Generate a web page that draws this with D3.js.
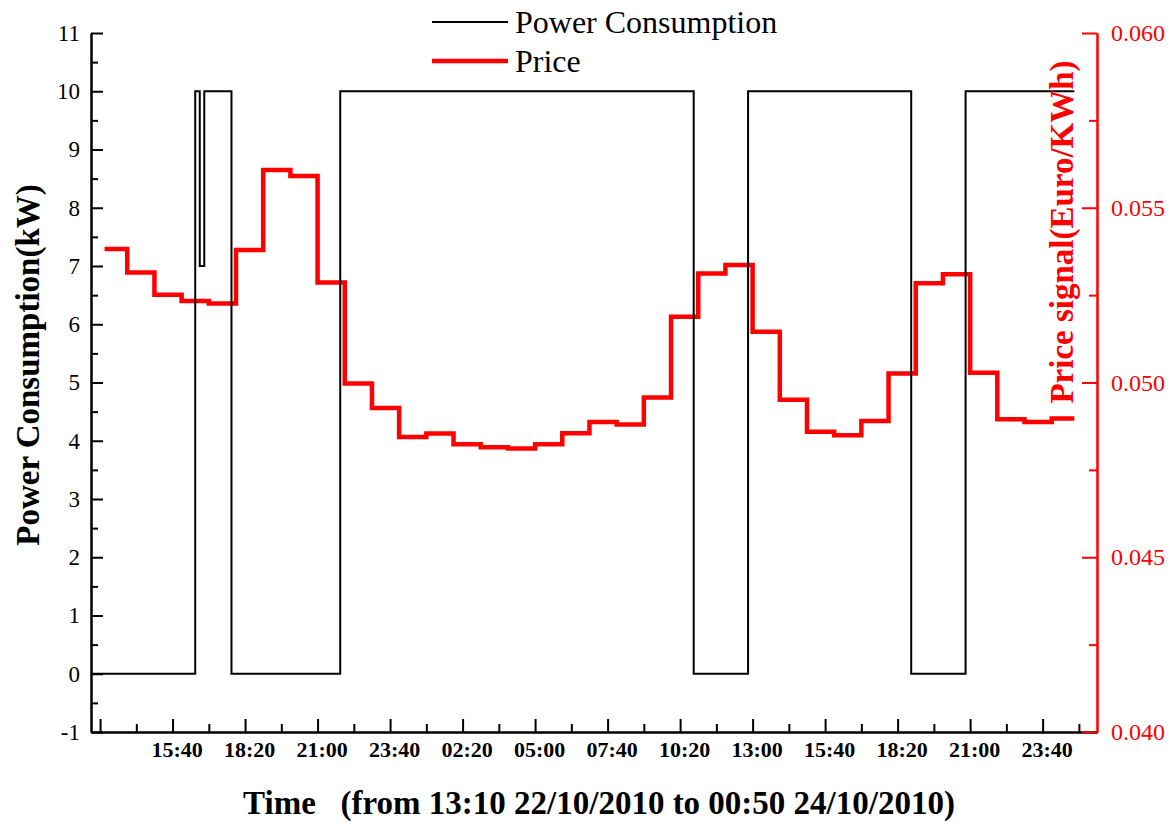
<!DOCTYPE html>
<html>
<head>
<meta charset="utf-8">
<script src="https://cdn.jsdelivr.net/npm/d3@7"></script>
<style>
  html, body { margin: 0; padding: 0; background: #fff; }
  svg { display: block; font-family: "Liberation Serif", "Times New Roman", serif; }
  svg text { font-family: "Liberation Serif", "Times New Roman", serif; }
</style>
</head>
<body>
<svg id="chart" width="1174" height="822"></svg>
<script>
// ---------------- data ----------------
// Power consumption (kW), step changes: each value holds until the next time
const powerTimes  = ["2010-10-22 12:40", "2010-10-22 16:30", "2010-10-22 16:40", "2010-10-22 16:50",
                     "2010-10-22 17:50", "2010-10-22 21:50", "2010-10-23 10:50", "2010-10-23 12:50",
                     "2010-10-23 18:50", "2010-10-23 20:50", "2010-10-24 00:50"];
const powerValues = [0, 10, 7, 10, 0, 10, 0, 10, 0, 10, 10];

// Hourly price signal (Euro/KWh), from 13:10 22/10/2010 to 00:50 24/10/2010
const priceStart = "2010-10-22 13:10";
const priceEnd   = "2010-10-24 00:50";
const priceValues = [0.05382, 0.05315, 0.05251, 0.05233, 0.05226, 0.05379, 0.05608, 0.05591,
                     0.05286, 0.04997, 0.04927, 0.04844, 0.04854, 0.04823, 0.04815, 0.04811,
                     0.04823, 0.04855, 0.04887, 0.04880, 0.04957, 0.05188, 0.05312, 0.05336,
                     0.05145, 0.04951, 0.04859, 0.04849, 0.04890, 0.05026, 0.05284, 0.05310,
                     0.05028, 0.04895, 0.04887, 0.04897];

// Axis ticks
const xDomain = ["2010-10-22 12:40", "2010-10-24 01:40"];
const xTickStart = "2010-10-22 13:00";
const xTickLabels = ["", "15:40", "18:20", "21:00", "23:40", "02:20", "05:00", "07:40",
                     "10:20", "13:00", "15:40", "18:20", "21:00", "23:40"];
const yLeftTicks  = [-1, 0, 1, 2, 3, 4, 5, 6, 7, 8, 9, 10, 11];
const yLeftLabels = ["-1", "0", "1", "2", "3", "4", "5", "6", "7", "8", "9", "10", "11"];
const yRightTicks = [0.040, 0.045, 0.050, 0.055, 0.060];
const yRightLabels = ["0.040", "0.045", "0.050", "0.055", "0.060"];

const seriesNames = ["Power Consumption", "Price"];
const xTitle = "Time   (from 13:10 22/10/2010 to 00:50 24/10/2010)";
const yLeftTitle = "Power Consumption(kW)";
const yRightTitle = "Price signal(Euro/KWh)";

// ---------------- chart ----------------
const FONT = "Liberation Serif, Times New Roman, serif";
const parse = d3.timeParse("%Y-%m-%d %H:%M");
const svg = d3.select("#chart");
const L = 91, R = 1097, T = 33, B = 732;

const x = d3.scaleTime().domain(xDomain.map(parse)).range([L, R]);
const yL = d3.scaleLinear().domain([-1, 11]).range([B, T]);
const yR = d3.scaleLinear().domain([0.040, 0.060]).range([B, T]);

// price series: segment start times (13:10, then every full hour)
const pStart = parse(priceStart), pEnd = parse(priceEnd);
const priceTimes = [pStart].concat(d3.timeHour.range(d3.timeHour.ceil(pStart), pEnd));
const priceData = priceValues.map((v, i) => ({t: priceTimes[i], v}));
priceData.push({t: pEnd, v: priceValues[priceValues.length - 1]});

const powerData = powerTimes.map((t, i) => ({t: parse(t), v: powerValues[i]}));

// price line (under)
svg.append("path")
  .datum(priceData)
  .attr("fill", "none")
  .attr("stroke", "#ff0000")
  .attr("stroke-width", 4.5)
  .attr("stroke-linejoin", "miter")
  .attr("d", d3.line().x(d => x(d.t)).y(d => yR(d.v)).curve(d3.curveStepAfter));

// power line (over)
svg.append("path")
  .datum(powerData)
  .attr("fill", "none")
  .attr("stroke", "#000")
  .attr("stroke-width", 2)
  .attr("d", d3.line().x(d => x(d.t)).y(d => yL(d.v)).curve(d3.curveStepAfter));

// ---- axes ----
function styleAxis(g, color, width) {
  g.attr("font-family", FONT);
  g.selectAll("path.domain").attr("stroke", color).attr("stroke-width", width);
  g.selectAll(".tick line").attr("stroke", color).attr("stroke-width", width);
  g.selectAll(".tick text").attr("fill", color).attr("font-family", FONT);
}

// x axis
const t0 = parse(xTickStart);
const xMajor = xTickLabels.map((_, i) => d3.timeMinute.offset(t0, i * 160));
const xMinor = xTickLabels.map((_, i) => d3.timeMinute.offset(t0, i * 160 + 80));

const gxMinor = svg.append("g").attr("transform", `translate(0,${B})`)
  .call(d3.axisBottom(x).tickValues(xMinor).tickSize(-8).tickSizeOuter(0).tickFormat(""));
styleAxis(gxMinor, "#000", 2);
const gx = svg.append("g").attr("transform", `translate(0,${B})`)
  .call(d3.axisBottom(x).tickValues(xMajor).tickSize(-13).tickSizeOuter(0).tickPadding(9)
    .tickFormat((d, i) => xTickLabels[i]));
styleAxis(gx, "#000", 2);
gx.selectAll(".tick text")
  .attr("font-size", 22).attr("font-weight", "bold")
  .attr("dx", 4);

// left axis
const gyMinor = svg.append("g").attr("transform", `translate(${L},0)`)
  .call(d3.axisLeft(yL).tickValues(yLeftTicks.slice(1).map(v => v - 0.5)).tickSize(-7).tickSizeOuter(0).tickFormat(""));
styleAxis(gyMinor, "#000", 2);
const gy = svg.append("g").attr("transform", `translate(${L},0)`)
  .call(d3.axisLeft(yL).tickValues(yLeftTicks).tickSize(-12).tickSizeOuter(0).tickPadding(11)
    .tickFormat((d, i) => yLeftLabels[i]));
styleAxis(gy, "#000", 2);
gy.selectAll(".tick text").attr("font-size", 23);

// right axis
const gyrMinor = svg.append("g").attr("transform", `translate(${R},0)`)
  .call(d3.axisRight(yR).tickValues(yRightTicks.slice(1).map(v => v - 0.0025)).tickSize(-8).tickSizeOuter(0).tickFormat(""));
styleAxis(gyrMinor, "#ff0000", 2);
const gyr = svg.append("g").attr("transform", `translate(${R},0)`)
  .call(d3.axisRight(yR).tickValues(yRightTicks).tickSize(-15).tickSizeOuter(0).tickPadding(14)
    .tickFormat((d, i) => yRightLabels[i]));
styleAxis(gyr, "#ff0000", 2);
gyr.selectAll(".tick text").attr("font-size", 24);

// ---- titles ----
svg.append("text")
  .attr("x", 599).attr("y", 814)
  .attr("text-anchor", "middle")
  .attr("font-family", FONT)
  .attr("font-size", 33).attr("font-weight", "bold")
  .style("white-space", "pre")
  .attr("xml:space", "preserve")
  .text(xTitle);

svg.append("text")
  .attr("transform", "translate(39,365) rotate(-90)")
  .attr("text-anchor", "middle")
  .attr("font-family", FONT)
  .attr("font-size", 33).attr("font-weight", "bold")
  .text(yLeftTitle);

svg.append("text")
  .attr("transform", "translate(1073,232) rotate(-90)")
  .attr("text-anchor", "middle")
  .attr("font-family", FONT)
  .attr("font-size", 33).attr("font-weight", "bold")
  .attr("fill", "#ff0000")
  .text(yRightTitle);

// ---- legend ----
const legend = svg.append("g");
const legendColors = ["#000", "#ff0000"];
const legendWidths = [2, 4.5];
const legendY = [22, 61];
const legendBase = [33, 72];
seriesNames.forEach((name, i) => {
  legend.append("line")
    .attr("x1", 432).attr("x2", 508)
    .attr("y1", legendY[i]).attr("y2", legendY[i])
    .attr("stroke", legendColors[i]).attr("stroke-width", legendWidths[i]);
  legend.append("text")
    .attr("x", 515).attr("y", legendBase[i])
    .attr("font-family", FONT)
    .attr("font-size", 32)
    .text(name);
});
</script>
</body>
</html>
